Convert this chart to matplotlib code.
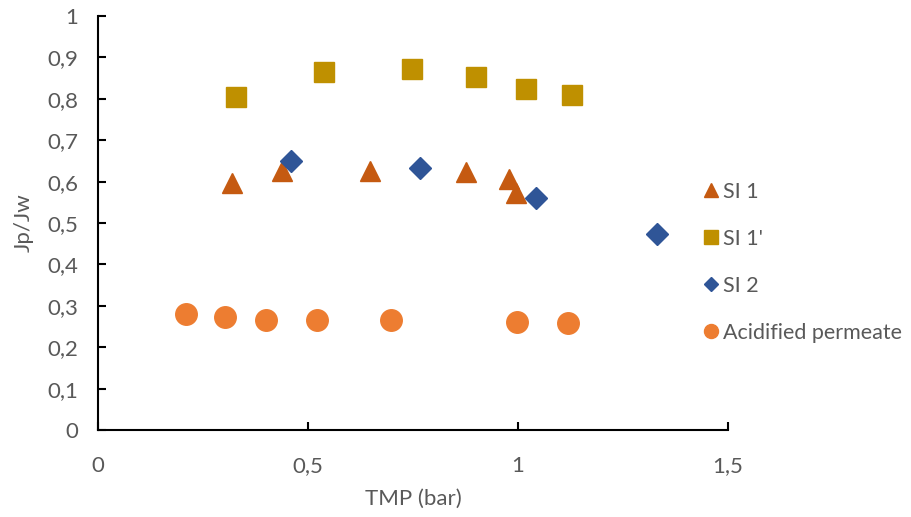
import matplotlib
matplotlib.use("Agg")
import matplotlib.pyplot as plt

plt.rcParams['font.family'] = ['Lato', 'DejaVu Sans']

# Data
si1_x = [0.319, 0.438, 0.648, 0.876, 0.978, 0.995]
si1_y = [0.597, 0.626, 0.626, 0.623, 0.606, 0.572]

si1p_x = [0.329, 0.538, 0.748, 0.900, 1.019, 1.129]
si1p_y = [0.804, 0.865, 0.872, 0.853, 0.824, 0.809]

si2_x = [0.460, 0.767, 1.043, 1.331]
si2_y = [0.650, 0.633, 0.560, 0.473]

acid_x = [0.210, 0.302, 0.400, 0.521, 0.698, 0.998, 1.119]
acid_y = [0.280, 0.273, 0.266, 0.266, 0.266, 0.261, 0.258]

x_ticks = [0, 0.5, 1, 1.5]
x_ticklabels = ['0', '0,5', '1', '1,5']
y_ticks = [0, 0.1, 0.2, 0.3, 0.4, 0.5, 0.6, 0.7, 0.8, 0.9, 1]
y_ticklabels = ['0', '0,1', '0,2', '0,3', '0,4', '0,5', '0,6', '0,7', '0,8', '0,9', '1']

text_color = '#595959'

fig = plt.figure(figsize=(9.11, 5.17), dpi=100)
ax = fig.add_axes([98/911, 87/517, 630/911, 414/517])

ax.plot(si1_x, si1_y, linestyle='none', marker='^', markersize=15, color='#C55A11', label='SI 1')
ax.plot(si1p_x, si1p_y, linestyle='none', marker='s', markersize=15, color='#BF9000', label="SI 1'")
ax.plot(si2_x, si2_y, linestyle='none', marker='D', markersize=11, color='#2F5597', label='SI 2')
ax.plot(acid_x, acid_y, linestyle='none', marker='o', markersize=15.5, color='#ED7D31', label='Acidified permeate')

ax.set_xlim(0, 1.5)
ax.set_ylim(0, 1)
ax.set_xticks(x_ticks)
ax.set_xticklabels(x_ticklabels)
ax.set_yticks(y_ticks)
ax.set_yticklabels(y_ticklabels)

for s in ['top', 'right']:
    ax.spines[s].set_visible(False)
for s in ['left', 'bottom']:
    ax.spines[s].set_color('black')
    ax.spines[s].set_linewidth(1.5)

ax.tick_params(axis='both', direction='in', length=6, width=1.5, colors='black',
               labelcolor=text_color, labelsize=16)
ax.tick_params(axis='x', pad=19)
ax.tick_params(axis='y', pad=14)

ax.set_xlabel('TMP (bar)', fontsize=16, color=text_color, labelpad=9)
ax.set_ylabel('Jp/Jw', fontsize=16, color=text_color, labelpad=10)

leg = fig.legend(loc='upper left', bbox_to_anchor=(703/911, 1 - 182/517), frameon=False,
                 fontsize=15.5, labelcolor=text_color, markerscale=0.65,
                 handlelength=0.7, handletextpad=0.25, labelspacing=1.25, borderpad=0,
                 borderaxespad=0)

fig.savefig('out.png', dpi=100)
